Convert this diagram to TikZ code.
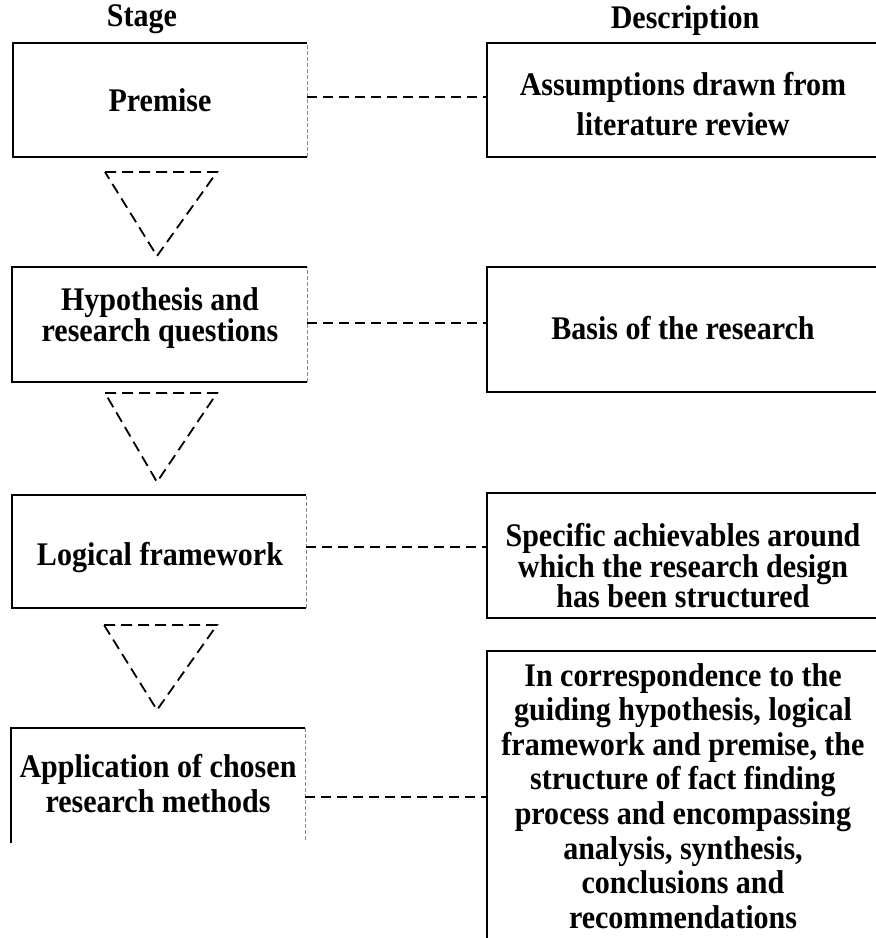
\documentclass[tikz,border=0pt]{standalone}
\usepackage{fontspec}
\setmainfont{Liberation Serif}[FakeStretch=0.91]
\begin{document}
\begin{tikzpicture}[x=1pt,y=-1pt,
  boxline/.style={line width=2.2pt},
  faint/.style={draw=black!45, line width=0.8pt, dash pattern=on 4pt off 2pt},
  conn/.style={line width=2pt, dash pattern=on 10pt off 6pt},
  tri/.style={line width=1.8pt, dash pattern=on 11pt off 6pt},
  frame/.style={draw=none, inner sep=0pt, outer sep=0pt},
  dbox/.style={draw, line width=2.2pt, inner sep=0pt, outer sep=0pt},
  lbl/.style={font=\bfseries\fontsize{33}{34}\selectfont, align=center, inner sep=0pt}]
\useasboundingbox (0,0) rectangle (876,938);
\clip (0,0) rectangle (876,938);

% column headings
\node[lbl, anchor=base] (hStage) at (142,26) {Stage};
\node[lbl, anchor=base] (hDesc) at (685,28) {Description};

% stage boxes
\node[frame, minimum width=294pt, minimum height=114pt] (s1) at (160,100) {};
\node[frame, minimum width=295pt, minimum height=115pt] (s2) at (159.5,324.5) {};
\node[frame, minimum width=294pt, minimum height=113pt] (s3) at (159,551.5) {};
\node[frame, minimum width=294pt, minimum height=115pt] (s4) at (158,785.5) {};

\foreach \b in {s1,s2,s3}{
  \draw[boxline] (\b.north east) -- (\b.north west) -- (\b.south west) -- (\b.south east);
  \draw[faint] (\b.south east) -- (\b.north east);
}
\draw[boxline] (s4.south west) -- (s4.north west) -- (s4.north east);
\draw[faint] (s4.north east) -- ([yshift=3pt]s4.south east);

% description boxes (run past the right edge)
\node[dbox, minimum width=403pt, minimum height=114pt] (d1) at (688.5,100) {};
\node[dbox, minimum width=403pt, minimum height=125pt] (d2) at (688.5,329.5) {};
\node[dbox, minimum width=403pt, minimum height=125pt] (d3) at (688.5,555.5) {};
\node[dbox, minimum width=403pt, minimum height=309pt] (d4) at (688.5,805.5) {};

% texts
\node[lbl] (t1) at (160,100) {Premise};
\node[lbl, font=\bfseries\fontsize{33}{31}\selectfont] (t2) at (160,318) {Hypothesis and\\research questions};
\node[lbl] (t3) at (160,558) {Logical framework};
\node[lbl, font=\bfseries\fontsize{33}{35}\selectfont] (t4) at (158,784) {Application of chosen\\research methods};

\node[lbl, font=\bfseries\fontsize{33}{40}\selectfont] (u1) at (683,104) {Assumptions drawn from\\literature review};
\node[lbl] (u2) at (683,328) {Basis of the research};
\node[lbl, font=\bfseries\fontsize{33}{30.5}\selectfont] (u3) at (683,566) {Specific achievables around\\which the research design\\has been structured};
\node[lbl, font=\bfseries\fontsize{33}{34.6}\selectfont] (u4) at (683,796) {In correspondence to the\\guiding hypothesis, logical\\framework and premise, the\\structure of fact finding\\process and encompassing\\analysis, synthesis,\\conclusions and\\recommendations};

% downward dashed triangles between stages
\draw[tri] (105,172) -- (217,172) -- (157,256) -- cycle;
\draw[tri] (105,393) -- (217,393) -- (157,482) -- cycle;
\draw[tri] (104,625) -- (217,625) -- (157,710) -- cycle;

% dashed links from stage to description
\coordinate (c1) at ([yshift=3pt]s1.east);
\coordinate (c2) at ([yshift=1.5pt]s2.east);
\coordinate (c3) at ([yshift=4.5pt]s3.east);
\coordinate (c4) at ([yshift=-11.5pt]s4.east);
\draw[conn] (c1) -- (c1 -| d1.west);
\draw[conn] (c2) -- (c2 -| d2.west);
\draw[conn] (c3) -- (c3 -| d3.west);
\draw[conn] (c4) -- (c4 -| d4.west);
\end{tikzpicture}
\end{document}
